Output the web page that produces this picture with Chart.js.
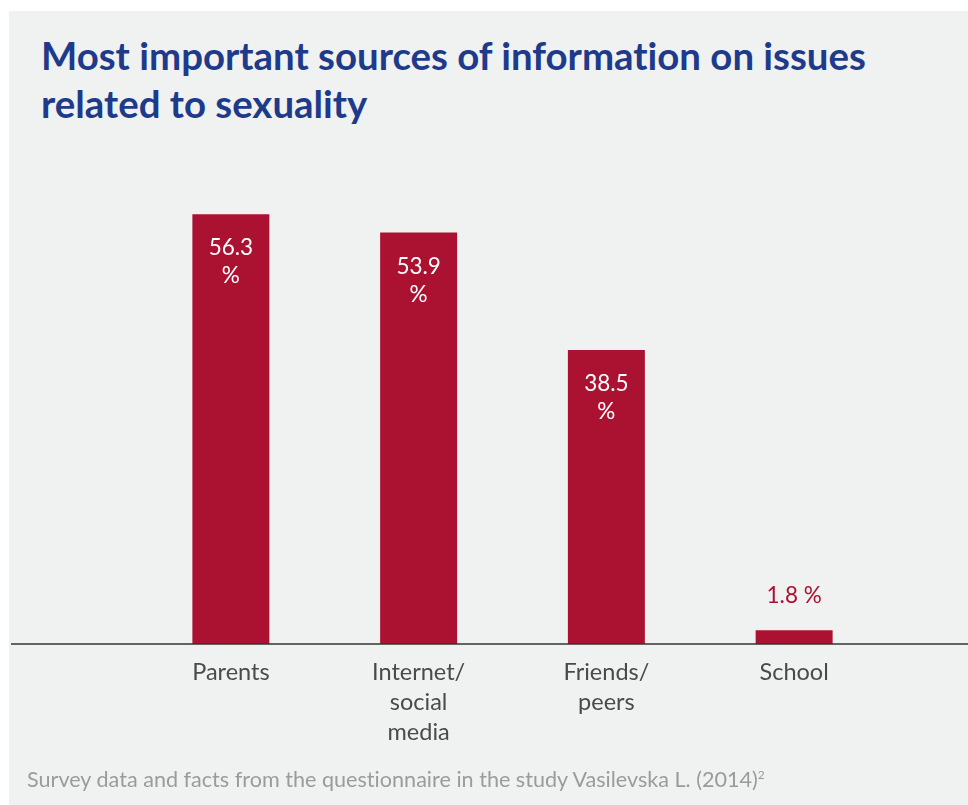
<!DOCTYPE html>
<html>
<head>
<meta charset="utf-8">
<script src="https://cdn.jsdelivr.net/npm/chart.js@4.4.1/dist/chart.umd.min.js"></script>
<style>
  html, body { margin: 0; padding: 0; background: #ffffff; }
  #page { position: relative; width: 968px; height: 805px; overflow: hidden; }
  #panel { position: absolute; left: 9px; top: 11px; width: 959px; height: 794px; background: #f0f1f1; }
  h1 {
    position: absolute; left: 41px; top: 31px; margin: 0;
    font-family: Lato, "Open Sans", sans-serif; font-weight: 700;
    font-size: 38.4px; line-height: 48px; color: #1e3a8a;
    font-variant-ligatures: none; white-space: nowrap;
  }
  #source {
    position: absolute; left: 27px; top: 766px; margin: 0;
    font-family: Lato, "Open Sans", sans-serif; font-size: 21.6px; color: #9b9b9b;
    font-variant-ligatures: none; white-space: nowrap;
  }
  #source sup { font-size: 12px; vertical-align: 8px; line-height: 0; }
  #chartBox { position: absolute; left: 0; top: 0; width: 968px; height: 805px; }
</style>
</head>
<body>
<div id="page">
  <div id="panel"></div>
  <h1>Most important sources of information on issues<br>related to sexuality</h1>
  <div id="chartBox"><canvas id="sourcesChart"></canvas></div>
  <p id="source">Survey data and facts from the questionnaire in the study Vasilevska L. (2014)<sup>2</sup></p>
</div>
<script>
var categories = [["Parents"], ["Internet/", "social", "media"], ["Friends/", "peers"], ["School"]];
var shares = [56.3, 53.9, 38.5, 1.8];

var barColor = "#ab1131";

// bar value labels: inside (two lines) for tall bars, above for short ones
var valueLabels = {
  id: "valueLabels",
  afterDatasetsDraw: function (chart) {
    var ctx = chart.ctx;
    var meta = chart.getDatasetMeta(0);
    ctx.save();
    ctx.font = "22.5px Lato, 'Open Sans', sans-serif";
    ctx.textAlign = "center";
    ctx.textBaseline = "middle";
    meta.data.forEach(function (bar, i) {
      var v = shares[i].toFixed(1);
      if (shares[i] > 10) {
        ctx.fillStyle = "#ffffff";
        ctx.fillText(v, bar.x, bar.y + 34);
        ctx.fillText("%", bar.x, bar.y + 62);
      } else {
        ctx.fillStyle = barColor;
        ctx.fillText(v + " %", bar.x, bar.y - 35);
      }
    });
    ctx.restore();
  }
};

// baseline running across the whole panel
var baseLine = {
  id: "baseLine",
  afterDatasetsDraw: function (chart) {
    var ctx = chart.ctx;
    var y = chart.scales.y.getPixelForValue(0);
    ctx.save();
    ctx.strokeStyle = "#333333";
    ctx.lineWidth = 1.5;
    ctx.beginPath();
    ctx.moveTo(11, y);
    ctx.lineTo(968, y);
    ctx.stroke();
    ctx.restore();
  }
};

new Chart(document.getElementById("sourcesChart"), {
  type: "bar",
  data: {
    labels: categories,
    datasets: [{
      data: shares,
      backgroundColor: barColor,
      barPercentage: 0.82,
      categoryPercentage: 0.5
    }]
  },
  options: {
    responsive: true,
    maintainAspectRatio: false,
    animation: false,
    layout: { padding: { left: 137, right: 80, top: 186, bottom: 41 } },
    plugins: { legend: { display: false }, tooltip: { enabled: false } },
    scales: {
      x: {
        grid: { display: false, drawTicks: false },
        border: { display: false },
        ticks: {
          color: "#4a4a4a",
          padding: 13,
          font: { family: "Lato, 'Open Sans', sans-serif", size: 23.5, lineHeight: 1.28 }
        },
        afterFit: function (scale) { scale.height = 120; }
      },
      y: {
        display: false,
        min: 0,
        max: 60
      }
    }
  },
  plugins: [valueLabels, baseLine]
});
</script>
</body>
</html>
